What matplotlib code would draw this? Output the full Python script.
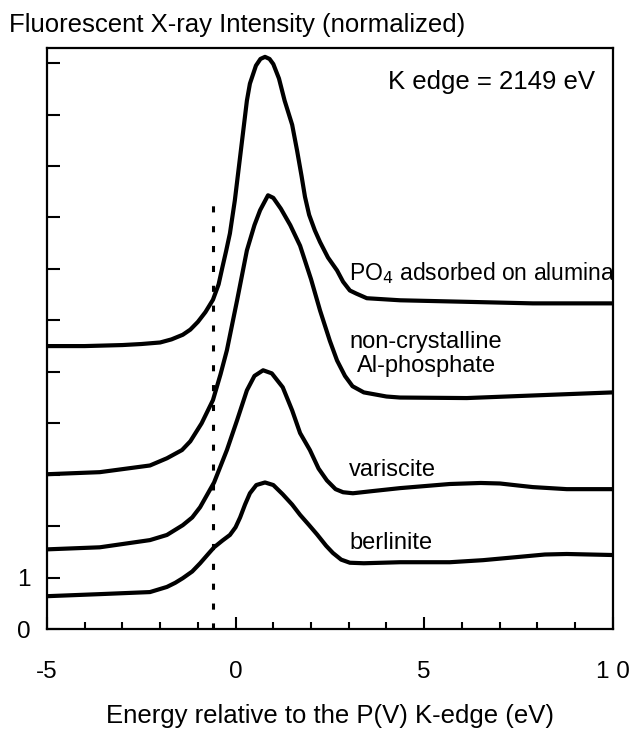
import numpy as np
import matplotlib
matplotlib.use('Agg')
import matplotlib.pyplot as plt
from matplotlib import rcParams

rcParams['font.family'] = ['Liberation Sans', 'DejaVu Sans']
rcParams['font.size'] = 17

# PO4 adsorbed on alumina
po4_x = [-5.0, -4.0, -3.0, -2.5, -2.0, -1.7, -1.4, -1.2, -1.0, -0.8, -0.6, -0.45, -0.35,
         -0.25, -0.15, -0.02, 0.14, 0.30, 0.38, 0.54, 0.66, 0.78, 0.9, 1.0, 1.15, 1.30,
         1.5, 1.63, 1.75, 1.84, 1.95, 2.1, 2.24, 2.45, 2.69, 2.85, 3.03, 3.2, 3.48, 4.36,
         6.13, 7.88, 10.0]
po4_y = [5.50, 5.50, 5.52, 5.54, 5.57, 5.63, 5.72, 5.82, 5.97, 6.16, 6.40, 6.70, 7.03,
         7.35, 7.69, 8.33, 9.30, 10.27, 10.60, 10.95, 11.08, 11.12, 11.08, 10.98, 10.70, 10.27,
         9.80, 9.30, 8.80, 8.40, 8.05, 7.75, 7.52, 7.22, 6.97, 6.75, 6.58, 6.52, 6.43, 6.39,
         6.36, 6.33, 6.33]

# non-crystalline Al-phosphate
ncr_x = [-5.0, -3.6, -2.27, -1.82, -1.42, -1.2, -0.9, -0.6, -0.4, -0.23, 0.04, 0.30, 0.5,
         0.65, 0.86, 1.0, 1.2, 1.45, 1.71, 2.0, 2.24, 2.5, 2.69, 2.9, 3.1, 3.4, 4.0, 4.36,
         6.13, 7.88, 10.0]
ncr_y = [3.01, 3.05, 3.18, 3.32, 3.48, 3.65, 4.00, 4.45, 4.95, 5.42, 6.39, 7.36, 7.85,
         8.14, 8.43, 8.38, 8.17, 7.85, 7.45, 6.80, 6.19, 5.60, 5.22, 4.92, 4.72, 4.60, 4.52, 4.50,
         4.49, 4.54, 4.60]

# variscite
var_x = [-5.0, -3.6, -2.27, -1.82, -1.40, -1.15, -0.94, -0.57, -0.23, 0.04, 0.30, 0.5,
         0.73, 0.96, 1.25, 1.5, 1.71, 1.97, 2.2, 2.42, 2.65, 2.85, 3.11, 3.6, 4.36, 5.68,
         6.5, 7.01, 7.5, 7.88, 8.78, 10.0]
var_y = [1.55, 1.59, 1.73, 1.83, 2.02, 2.17, 2.37, 2.85, 3.48, 4.06, 4.64, 4.92,
         5.03, 4.97, 4.70, 4.25, 3.81, 3.48, 3.12, 2.89, 2.72, 2.66, 2.64, 2.68, 2.74, 2.82,
         2.84, 2.83, 2.79, 2.76, 2.72, 2.72]

# berlinite
ber_x = [-5.0, -3.6, -2.27, -1.82, -1.6, -1.40, -1.15, -0.94, -0.75, -0.57, -0.35, -0.15,
         0.0, 0.12, 0.25, 0.38, 0.55, 0.78, 1.0, 1.25, 1.5, 1.71, 1.95, 2.16, 2.4, 2.58,
         2.8, 3.03, 3.4, 4.36, 5.68, 6.56, 7.46, 8.2, 8.78, 10.0]
ber_y = [0.64, 0.68, 0.72, 0.82, 0.90, 0.99, 1.12, 1.28, 1.44, 1.59, 1.72, 1.83,
         1.98, 2.17, 2.42, 2.64, 2.80, 2.85, 2.80, 2.62, 2.42, 2.22, 2.02, 1.84, 1.62, 1.48,
         1.35, 1.29, 1.28, 1.30, 1.30, 1.34, 1.40, 1.45, 1.46, 1.44]

edge_x = -0.6
edge_top = 8.36

fig = plt.figure(figsize=(6.35, 7.29), dpi=100)
ax = fig.add_axes([0.074, 0.137, 0.891, 0.797])

for xs, ys in [(po4_x, po4_y), (ncr_x, ncr_y), (var_x, var_y), (ber_x, ber_y)]:
    ax.plot(xs, ys, color='black', lw=3.0, solid_joinstyle='round', solid_capstyle='round')

ax.plot([edge_x, edge_x], [0, edge_top], color='black', lw=2.2,
        linestyle=(0, (2.0, 4.5)))

ax.set_xlim(-5, 10)
ax.set_ylim(0, 11.29)

ax.set_xticks([-5, 0, 5, 10])
ax.set_xticklabels(['-5', '0', '5', '1 0'])
ax.set_xticks(np.arange(-5, 11, 1), minor=True)
ax.set_yticks(np.arange(0, 12, 1))
ax.set_yticklabels(['0', '1'] + [''] * 10)

ax.tick_params(axis='x', which='major', direction='in', length=9, width=1.5, pad=23,
               labelsize=17.5, top=False)
ax.tick_params(axis='x', which='minor', direction='in', length=5, width=1.5, top=False)
ax.tick_params(axis='y', which='major', direction='in', length=9, width=1.5, pad=12,
               labelsize=17.5, right=False)
for s in ax.spines.values():
    s.set_linewidth(1.6)

ax.text(4.04, 10.49, 'K edge = 2149 eV', fontsize=18.5, va='baseline', ha='left')
ax.text(3.0, 6.78, r'PO$_4$ adsorbed on alumina', fontsize=16.5, va='baseline', ha='left')
ax.text(3.03, 5.46, 'non-crystalline', fontsize=17, va='baseline', ha='left')
ax.text(3.21, 4.99, 'Al-phosphate', fontsize=17, va='baseline', ha='left')
ax.text(3.0, 2.97, 'variscite', fontsize=17, va='baseline', ha='left')
ax.text(3.03, 1.55, 'berlinite', fontsize=17, va='baseline', ha='left')

fig.text(9 / 635, 1 - 32 / 729, 'Fluorescent X-ray Intensity (normalized)',
         fontsize=18.5, va='baseline', ha='left')
fig.text(330 / 635, 1 - 723 / 729, 'Energy relative to the P(V) K-edge (eV)',
         fontsize=18.5, va='baseline', ha='center')

fig.savefig('out.png', dpi=100)
